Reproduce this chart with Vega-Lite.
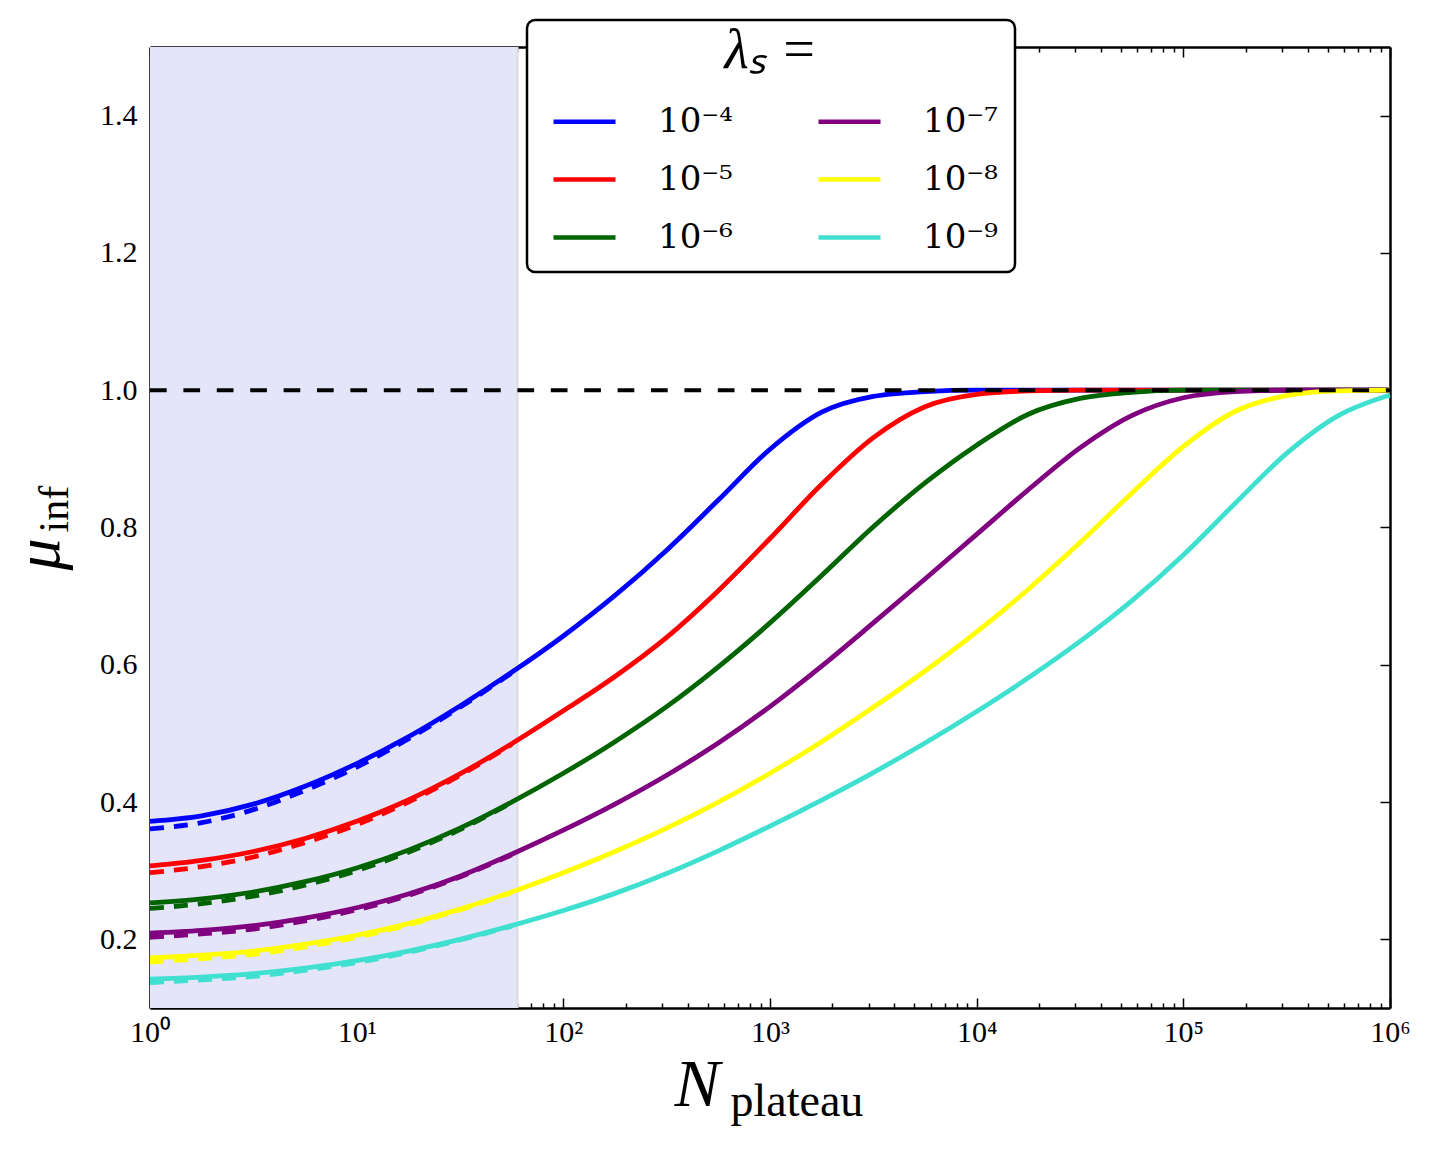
{
  "$schema": "https://vega.github.io/schema/vega-lite/v6.json",
  "width": 1240,
  "height": 961,
  "autosize": "none",
  "padding": {"left": 150, "top": 47, "right": 43, "bottom": 143},
  "background": "white",
  "config": {
    "view": {"stroke": null},
    "axis": {
      "grid": false,
      "zindex": 1,
      "domainColor": "black",
      "domainWidth": 2.5,
      "tickColor": "black",
      "tickWidth": 1.5,
      "labelFont": "Liberation Serif",
      "labelFontSize": 30,
      "labelColor": "black",
      "titleFont": "Liberation Serif",
      "titleColor": "black",
      "titleFontWeight": "normal"
    },
    "legend": {
      "strokeWidth": 2.5,
      "labelFont": "DejaVu Serif",
      "labelFontSize": 34,
      "labelColor": "black",
      "titleFont": "Liberation Serif",
      "titleColor": "black",
      "titleFontWeight": "normal"
    }
  },
  "datasets": {
    "span": [{"N0": 1, "N1": 60, "lo": 0.1, "hi": 1.5}],
    "edge": [{"N": 60}],
    "ref": [{"N0": 1, "N1": 1000000, "mu": 1}],
    "solid": [
      {"lam": "10⁻⁴", "N": 1, "mu": 0.372},
      {"lam": "10⁻⁴", "N": 1.778, "mu": 0.380},
      {"lam": "10⁻⁴", "N": 3.162, "mu": 0.397},
      {"lam": "10⁻⁴", "N": 5.623, "mu": 0.423},
      {"lam": "10⁻⁴", "N": 10, "mu": 0.456},
      {"lam": "10⁻⁴", "N": 17.78, "mu": 0.495},
      {"lam": "10⁻⁴", "N": 31.62, "mu": 0.540},
      {"lam": "10⁻⁴", "N": 56.23, "mu": 0.589},
      {"lam": "10⁻⁴", "N": 100, "mu": 0.642},
      {"lam": "10⁻⁴", "N": 177.8, "mu": 0.701},
      {"lam": "10⁻⁴", "N": 316.2, "mu": 0.767},
      {"lam": "10⁻⁴", "N": 562.3, "mu": 0.840},
      {"lam": "10⁻⁴", "N": 1000, "mu": 0.914},
      {"lam": "10⁻⁴", "N": 1778, "mu": 0.968},
      {"lam": "10⁻⁴", "N": 3162, "mu": 0.991},
      {"lam": "10⁻⁴", "N": 5623, "mu": 0.998},
      {"lam": "10⁻⁴", "N": 10000, "mu": 1},
      {"lam": "10⁻⁴", "N": 17783, "mu": 1},
      {"lam": "10⁻⁴", "N": 31623, "mu": 1},
      {"lam": "10⁻⁴", "N": 56234, "mu": 1},
      {"lam": "10⁻⁴", "N": 100000, "mu": 1},
      {"lam": "10⁻⁴", "N": 177828, "mu": 1},
      {"lam": "10⁻⁴", "N": 316228, "mu": 1},
      {"lam": "10⁻⁴", "N": 562341, "mu": 1},
      {"lam": "10⁻⁴", "N": 1000000, "mu": 1},

      {"lam": "10⁻⁵", "N": 1, "mu": 0.307},
      {"lam": "10⁻⁵", "N": 1.778, "mu": 0.315},
      {"lam": "10⁻⁵", "N": 3.162, "mu": 0.328},
      {"lam": "10⁻⁵", "N": 5.623, "mu": 0.347},
      {"lam": "10⁻⁵", "N": 10, "mu": 0.372},
      {"lam": "10⁻⁵", "N": 17.78, "mu": 0.403},
      {"lam": "10⁻⁵", "N": 31.62, "mu": 0.441},
      {"lam": "10⁻⁵", "N": 56.23, "mu": 0.485},
      {"lam": "10⁻⁵", "N": 100, "mu": 0.533},
      {"lam": "10⁻⁵", "N": 177.8, "mu": 0.583},
      {"lam": "10⁻⁵", "N": 316.2, "mu": 0.640},
      {"lam": "10⁻⁵", "N": 562.3, "mu": 0.708},
      {"lam": "10⁻⁵", "N": 1000, "mu": 0.784},
      {"lam": "10⁻⁵", "N": 1778, "mu": 0.863},
      {"lam": "10⁻⁵", "N": 3162, "mu": 0.931},
      {"lam": "10⁻⁵", "N": 5623, "mu": 0.976},
      {"lam": "10⁻⁵", "N": 10000, "mu": 0.994},
      {"lam": "10⁻⁵", "N": 17783, "mu": 0.999},
      {"lam": "10⁻⁵", "N": 31623, "mu": 1},
      {"lam": "10⁻⁵", "N": 56234, "mu": 1},
      {"lam": "10⁻⁵", "N": 100000, "mu": 1},
      {"lam": "10⁻⁵", "N": 177828, "mu": 1},
      {"lam": "10⁻⁵", "N": 316228, "mu": 1},
      {"lam": "10⁻⁵", "N": 562341, "mu": 1},
      {"lam": "10⁻⁵", "N": 1000000, "mu": 1},

      {"lam": "10⁻⁶", "N": 1, "mu": 0.253},
      {"lam": "10⁻⁶", "N": 1.778, "mu": 0.259},
      {"lam": "10⁻⁶", "N": 3.162, "mu": 0.269},
      {"lam": "10⁻⁶", "N": 5.623, "mu": 0.284},
      {"lam": "10⁻⁶", "N": 10, "mu": 0.304},
      {"lam": "10⁻⁶", "N": 17.78, "mu": 0.330},
      {"lam": "10⁻⁶", "N": 31.62, "mu": 0.362},
      {"lam": "10⁻⁶", "N": 56.23, "mu": 0.400},
      {"lam": "10⁻⁶", "N": 100, "mu": 0.442},
      {"lam": "10⁻⁶", "N": 177.8, "mu": 0.488},
      {"lam": "10⁻⁶", "N": 316.2, "mu": 0.539},
      {"lam": "10⁻⁶", "N": 562.3, "mu": 0.597},
      {"lam": "10⁻⁶", "N": 1000, "mu": 0.661},
      {"lam": "10⁻⁶", "N": 1778, "mu": 0.730},
      {"lam": "10⁻⁶", "N": 3162, "mu": 0.801},
      {"lam": "10⁻⁶", "N": 5623, "mu": 0.865},
      {"lam": "10⁻⁶", "N": 10000, "mu": 0.920},
      {"lam": "10⁻⁶", "N": 17783, "mu": 0.965},
      {"lam": "10⁻⁶", "N": 31623, "mu": 0.988},
      {"lam": "10⁻⁶", "N": 56234, "mu": 0.997},
      {"lam": "10⁻⁶", "N": 100000, "mu": 1},
      {"lam": "10⁻⁶", "N": 177828, "mu": 1},
      {"lam": "10⁻⁶", "N": 316228, "mu": 1},
      {"lam": "10⁻⁶", "N": 562341, "mu": 1},
      {"lam": "10⁻⁶", "N": 1000000, "mu": 1},

      {"lam": "10⁻⁷", "N": 1, "mu": 0.209},
      {"lam": "10⁻⁷", "N": 1.778, "mu": 0.213},
      {"lam": "10⁻⁷", "N": 3.162, "mu": 0.220},
      {"lam": "10⁻⁷", "N": 5.623, "mu": 0.231},
      {"lam": "10⁻⁷", "N": 10, "mu": 0.246},
      {"lam": "10⁻⁷", "N": 17.78, "mu": 0.266},
      {"lam": "10⁻⁷", "N": 31.62, "mu": 0.292},
      {"lam": "10⁻⁷", "N": 56.23, "mu": 0.324},
      {"lam": "10⁻⁷", "N": 100, "mu": 0.359},
      {"lam": "10⁻⁷", "N": 177.8, "mu": 0.397},
      {"lam": "10⁻⁷", "N": 316.2, "mu": 0.439},
      {"lam": "10⁻⁷", "N": 562.3, "mu": 0.486},
      {"lam": "10⁻⁷", "N": 1000, "mu": 0.539},
      {"lam": "10⁻⁷", "N": 1778, "mu": 0.598},
      {"lam": "10⁻⁷", "N": 3162, "mu": 0.661},
      {"lam": "10⁻⁷", "N": 5623, "mu": 0.725},
      {"lam": "10⁻⁷", "N": 10000, "mu": 0.790},
      {"lam": "10⁻⁷", "N": 17783, "mu": 0.855},
      {"lam": "10⁻⁷", "N": 31623, "mu": 0.916},
      {"lam": "10⁻⁷", "N": 56234, "mu": 0.963},
      {"lam": "10⁻⁷", "N": 100000, "mu": 0.989},
      {"lam": "10⁻⁷", "N": 177828, "mu": 0.998},
      {"lam": "10⁻⁷", "N": 316228, "mu": 1},
      {"lam": "10⁻⁷", "N": 562341, "mu": 1},
      {"lam": "10⁻⁷", "N": 1000000, "mu": 1},

      {"lam": "10⁻⁸", "N": 1, "mu": 0.173},
      {"lam": "10⁻⁸", "N": 1.778, "mu": 0.177},
      {"lam": "10⁻⁸", "N": 3.162, "mu": 0.183},
      {"lam": "10⁻⁸", "N": 5.623, "mu": 0.193},
      {"lam": "10⁻⁸", "N": 10, "mu": 0.206},
      {"lam": "10⁻⁸", "N": 17.78, "mu": 0.223},
      {"lam": "10⁻⁸", "N": 31.62, "mu": 0.244},
      {"lam": "10⁻⁸", "N": 56.23, "mu": 0.269},
      {"lam": "10⁻⁸", "N": 100, "mu": 0.297},
      {"lam": "10⁻⁸", "N": 177.8, "mu": 0.328},
      {"lam": "10⁻⁸", "N": 316.2, "mu": 0.362},
      {"lam": "10⁻⁸", "N": 562.3, "mu": 0.400},
      {"lam": "10⁻⁸", "N": 1000, "mu": 0.442},
      {"lam": "10⁻⁸", "N": 1778, "mu": 0.488},
      {"lam": "10⁻⁸", "N": 3162, "mu": 0.538},
      {"lam": "10⁻⁸", "N": 5623, "mu": 0.591},
      {"lam": "10⁻⁸", "N": 10000, "mu": 0.648},
      {"lam": "10⁻⁸", "N": 17783, "mu": 0.710},
      {"lam": "10⁻⁸", "N": 31623, "mu": 0.778},
      {"lam": "10⁻⁸", "N": 56234, "mu": 0.850},
      {"lam": "10⁻⁸", "N": 100000, "mu": 0.918},
      {"lam": "10⁻⁸", "N": 177828, "mu": 0.969},
      {"lam": "10⁻⁸", "N": 316228, "mu": 0.992},
      {"lam": "10⁻⁸", "N": 562341, "mu": 0.999},
      {"lam": "10⁻⁸", "N": 1000000, "mu": 1},

      {"lam": "10⁻⁹", "N": 1, "mu": 0.142},
      {"lam": "10⁻⁹", "N": 1.778, "mu": 0.145},
      {"lam": "10⁻⁹", "N": 3.162, "mu": 0.150},
      {"lam": "10⁻⁹", "N": 5.623, "mu": 0.158},
      {"lam": "10⁻⁹", "N": 10, "mu": 0.169},
      {"lam": "10⁻⁹", "N": 17.78, "mu": 0.183},
      {"lam": "10⁻⁹", "N": 31.62, "mu": 0.200},
      {"lam": "10⁻⁹", "N": 56.23, "mu": 0.220},
      {"lam": "10⁻⁹", "N": 100, "mu": 0.242},
      {"lam": "10⁻⁹", "N": 177.8, "mu": 0.267},
      {"lam": "10⁻⁹", "N": 316.2, "mu": 0.296},
      {"lam": "10⁻⁹", "N": 562.3, "mu": 0.329},
      {"lam": "10⁻⁹", "N": 1000, "mu": 0.365},
      {"lam": "10⁻⁹", "N": 1778, "mu": 0.403},
      {"lam": "10⁻⁹", "N": 3162, "mu": 0.443},
      {"lam": "10⁻⁹", "N": 5623, "mu": 0.486},
      {"lam": "10⁻⁹", "N": 10000, "mu": 0.532},
      {"lam": "10⁻⁹", "N": 17783, "mu": 0.581},
      {"lam": "10⁻⁹", "N": 31623, "mu": 0.634},
      {"lam": "10⁻⁹", "N": 56234, "mu": 0.693},
      {"lam": "10⁻⁹", "N": 100000, "mu": 0.760},
      {"lam": "10⁻⁹", "N": 177828, "mu": 0.835},
      {"lam": "10⁻⁹", "N": 316228, "mu": 0.908},
      {"lam": "10⁻⁹", "N": 562341, "mu": 0.963},
      {"lam": "10⁻⁹", "N": 1000000, "mu": 0.993}
    ],
    "dashed": [
      {"lam": "10⁻⁴", "N": 1, "mu": 0.361},
      {"lam": "10⁻⁴", "N": 1.778, "mu": 0.370},
      {"lam": "10⁻⁴", "N": 3.162, "mu": 0.389},
      {"lam": "10⁻⁴", "N": 5.623, "mu": 0.417},
      {"lam": "10⁻⁴", "N": 10, "mu": 0.451},
      {"lam": "10⁻⁴", "N": 17.78, "mu": 0.492},
      {"lam": "10⁻⁴", "N": 31.62, "mu": 0.538},
      {"lam": "10⁻⁴", "N": 56.23, "mu": 0.588},
      {"lam": "10⁻⁵", "N": 1, "mu": 0.297},
      {"lam": "10⁻⁵", "N": 1.778, "mu": 0.306},
      {"lam": "10⁻⁵", "N": 3.162, "mu": 0.320},
      {"lam": "10⁻⁵", "N": 5.623, "mu": 0.341},
      {"lam": "10⁻⁵", "N": 10, "mu": 0.367},
      {"lam": "10⁻⁵", "N": 17.78, "mu": 0.400},
      {"lam": "10⁻⁵", "N": 31.62, "mu": 0.439},
      {"lam": "10⁻⁵", "N": 56.23, "mu": 0.484},
      {"lam": "10⁻⁶", "N": 1, "mu": 0.245},
      {"lam": "10⁻⁶", "N": 1.778, "mu": 0.252},
      {"lam": "10⁻⁶", "N": 3.162, "mu": 0.263},
      {"lam": "10⁻⁶", "N": 5.623, "mu": 0.279},
      {"lam": "10⁻⁶", "N": 10, "mu": 0.300},
      {"lam": "10⁻⁶", "N": 17.78, "mu": 0.327},
      {"lam": "10⁻⁶", "N": 31.62, "mu": 0.360},
      {"lam": "10⁻⁶", "N": 56.23, "mu": 0.399},
      {"lam": "10⁻⁷", "N": 1, "mu": 0.203},
      {"lam": "10⁻⁷", "N": 1.778, "mu": 0.208},
      {"lam": "10⁻⁷", "N": 3.162, "mu": 0.215},
      {"lam": "10⁻⁷", "N": 5.623, "mu": 0.227},
      {"lam": "10⁻⁷", "N": 10, "mu": 0.243},
      {"lam": "10⁻⁷", "N": 17.78, "mu": 0.264},
      {"lam": "10⁻⁷", "N": 31.62, "mu": 0.291},
      {"lam": "10⁻⁷", "N": 56.23, "mu": 0.323},
      {"lam": "10⁻⁸", "N": 1, "mu": 0.167},
      {"lam": "10⁻⁸", "N": 1.778, "mu": 0.172},
      {"lam": "10⁻⁸", "N": 3.162, "mu": 0.178},
      {"lam": "10⁻⁸", "N": 5.623, "mu": 0.189},
      {"lam": "10⁻⁸", "N": 10, "mu": 0.203},
      {"lam": "10⁻⁸", "N": 17.78, "mu": 0.221},
      {"lam": "10⁻⁸", "N": 31.62, "mu": 0.243},
      {"lam": "10⁻⁸", "N": 56.23, "mu": 0.268},
      {"lam": "10⁻⁹", "N": 1, "mu": 0.137},
      {"lam": "10⁻⁹", "N": 1.778, "mu": 0.141},
      {"lam": "10⁻⁹", "N": 3.162, "mu": 0.146},
      {"lam": "10⁻⁹", "N": 5.623, "mu": 0.155},
      {"lam": "10⁻⁹", "N": 10, "mu": 0.166},
      {"lam": "10⁻⁹", "N": 17.78, "mu": 0.181},
      {"lam": "10⁻⁹", "N": 31.62, "mu": 0.199},
      {"lam": "10⁻⁹", "N": 56.23, "mu": 0.219}
    ]
  },
  "layer": [
    {
      "data": {"name": "span"},
      "mark": {"type": "rect", "color": "#e5e5fa"},
      "encoding": {
        "x": {
          "field": "N0", "type": "quantitative",
          "scale": {"type": "log", "domain": [1, 1000000], "nice": false},
          "axis": {
            "orient": "bottom",
            "values": [1, 10, 100, 1000, 10000, 100000, 1000000],
            "labelExpr": "'10' + ['⁰','¹','²','³','⁴','⁵','⁶'][round(log(datum.value) / LN10)]",
            "tickSize": -10,
            "labelPadding": 19,
            "labelFlush": false,
            "title": "N",
            "titleFontSize": 68,
            "titleFontStyle": "italic",
            "titleAlign": "left",
            "titleBaseline": "alphabetic",
            "titleX": 524,
            "titleY": 97
          }
        },
        "x2": {"field": "N1"},
        "y": {
          "field": "lo", "type": "quantitative",
          "scale": {"domain": [0.1, 1.5], "nice": false, "zero": false},
          "axis": {
            "orient": "left",
            "values": [0.2, 0.4, 0.6, 0.8, 1.0, 1.2, 1.4],
            "format": ".1f",
            "tickSize": -10,
            "labelPadding": 23,
            "title": "μ",
            "titleFontSize": 64,
            "titleFontStyle": "italic",
            "titleAngle": -90,
            "titleAlign": "left",
            "titleBaseline": "alphabetic",
            "titleX": -92,
            "titleY": 523
          }
        },
        "y2": {"field": "hi"}
      }
    },
    {
      "data": {"name": "edge"},
      "mark": {"type": "rule", "color": "#dcdcdc", "strokeWidth": 2},
      "encoding": {
        "x": {
          "field": "N", "type": "quantitative",
          "scale": {"type": "log", "domain": [1, 1000000], "nice": false},
          "axis": null
        }
      }
    },
    {
      "data": {"name": "solid"},
      "mark": {"type": "line", "strokeWidth": 4.8, "interpolate": "monotone"},
      "encoding": {
        "x": {
          "field": "N", "type": "quantitative",
          "scale": {"type": "log", "domain": [1, 1000000], "nice": false},
          "axis": {
            "orient": "bottom",
            "values": [2,3,4,5,6,7,8,9,20,30,40,50,60,70,80,90,200,300,400,500,600,700,800,900,2000,3000,4000,5000,6000,7000,8000,9000,20000,30000,40000,50000,60000,70000,80000,90000,200000,300000,400000,500000,600000,700000,800000,900000],
            "labels": false,
            "domain": false,
            "tickSize": -5,
            "title": "plateau",
            "titleFontSize": 46,
            "titleFontStyle": "normal",
            "titleAlign": "left",
            "titleBaseline": "alphabetic",
            "titleX": 580,
            "titleY": 107
          }
        },
        "y": {
          "field": "mu", "type": "quantitative",
          "scale": {"domain": [0.1, 1.5], "nice": false, "zero": false},
          "axis": null
        },
        "color": {
          "field": "lam", "type": "nominal",
          "scale": {
            "domain": ["10⁻⁴", "10⁻⁵", "10⁻⁶", "10⁻⁷", "10⁻⁸", "10⁻⁹"],
            "range": ["#0000ff", "#ff0000", "#006400", "#800080", "#ffff00", "#40e0d0"]
          },
          "legend": {
            "orient": "none",
            "legendX": 377,
            "legendY": -27,
            "columns": 2,
            "title": "λₛ =",
            "titleFontSize": 56,
            "titleFontStyle": "italic",
            "titleAnchor": "middle",
            "titleBaseline": "line-top",
            "titleLineHeight": 30,
            "titlePadding": -5,
            "symbolType": "stroke",
            "symbolSize": 3844,
            "symbolStrokeWidth": 4.5,
            "symbolOffset": 7,
            "labelOffset": 40,
            "rowPadding": 7,
            "columnPadding": 76,
            "padding": 17,
            "fillColor": "white",
            "strokeColor": "black",
            "cornerRadius": 8
          }
        }
      }
    },
    {
      "data": {"name": "dashed"},
      "mark": {"type": "line", "strokeWidth": 4.8, "strokeDash": [14, 10], "interpolate": "monotone"},
      "encoding": {
        "x": {
          "field": "N", "type": "quantitative",
          "scale": {"type": "log", "domain": [1, 1000000], "nice": false},
          "axis": {
            "orient": "top",
            "values": [1, 10, 100, 1000, 10000, 100000, 1000000],
            "labels": false,
            "tickSize": -10,
            "title": null
          }
        },
        "y": {
          "field": "mu", "type": "quantitative",
          "scale": {"domain": [0.1, 1.5], "nice": false, "zero": false},
          "axis": {
            "orient": "left",
            "labels": false,
            "ticks": false,
            "domain": false,
            "title": "inf",
            "titleFontSize": 42,
            "titleFontStyle": "normal",
            "titleAngle": -90,
            "titleAlign": "left",
            "titleBaseline": "alphabetic",
            "titleX": -83,
            "titleY": 485
          }
        },
        "color": {"field": "lam", "type": "nominal"}
      }
    },
    {
      "data": {"name": "ref"},
      "mark": {"type": "rule", "color": "black", "strokeWidth": 4, "strokeDash": [16.7, 16.7]},
      "encoding": {
        "x": {
          "field": "N0", "type": "quantitative",
          "scale": {"type": "log", "domain": [1, 1000000], "nice": false},
          "axis": {
            "orient": "top",
            "values": [2,3,4,5,6,7,8,9,20,30,40,50,60,70,80,90,200,300,400,500,600,700,800,900,2000,3000,4000,5000,6000,7000,8000,9000,20000,30000,40000,50000,60000,70000,80000,90000,200000,300000,400000,500000,600000,700000,800000,900000],
            "labels": false,
            "domain": false,
            "tickSize": -5,
            "title": null
          }
        },
        "x2": {"field": "N1"},
        "y": {
          "field": "mu", "type": "quantitative",
          "scale": {"domain": [0.1, 1.5], "nice": false, "zero": false},
          "axis": {
            "orient": "right",
            "values": [0.2, 0.4, 0.6, 0.8, 1.0, 1.2, 1.4],
            "labels": false,
            "tickSize": -10,
            "title": null
          }
        }
      }
    }
  ],
  "resolve": {"axis": {"x": "independent", "y": "independent"}}
}
